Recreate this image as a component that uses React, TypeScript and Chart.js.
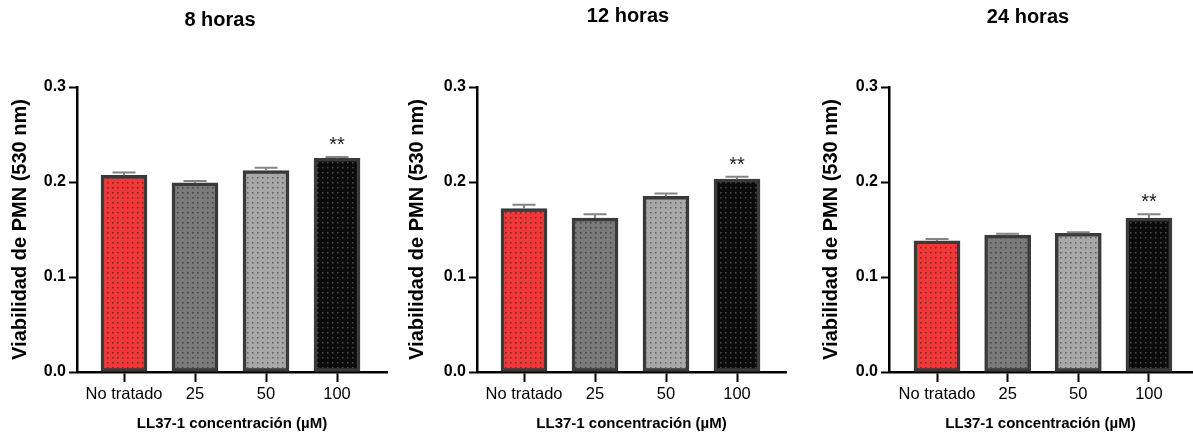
import React, { useEffect, useRef } from "react";
import { Chart, registerables } from "chart.js";

Chart.register(...registerables);

// ---- data ----
const categories = ["No tratado", "25", "50", "100"];
const yTicks = [0, 0.1, 0.2, 0.3];
const panelTitles = ["8 horas", "12 horas", "24 horas"];

const means8h = [0.207, 0.199, 0.212, 0.225];
const sem8h = [0.003, 0.002, 0.003, 0.0012];
const sig8h = ["", "", "", "**"];

const means12h = [0.172, 0.162, 0.185, 0.203];
const sem12h = [0.004, 0.004, 0.003, 0.0026];
const sig12h = ["", "", "", "**"];

const means24h = [0.138, 0.144, 0.146, 0.162];
const sem24h = [0.002, 0.0015, 0.0012, 0.004];
const sig24h = ["", "", "", "**"];

const yAxisTitle = "Viabilidad de PMN (530 nm)";
const xAxisTitle = "LL37-1 concentración (µM)";

// ---- styles ----
const barColors = ["#f03838", "#7a7a7a", "#a8a8a8", "#0b0b0b"];
const dotColors = ["#7e2424", "#444444", "#626262", "#4a4a4a"];
const FONT = "'Liberation Sans', Arial, Helvetica, sans-serif";

// layout for each panel (canvas placement & axis geometry)
const panelLayouts = [
  { left: 0, width: 395, padL: 8.6, yWidth: 68.4, padR: 8, xMin: -0.662, xMax: 3.704, titleX: 220, titleY: 20 },
  { left: 398, width: 395, padL: 7.1, yWidth: 71.9, padR: 7, xMin: -0.662, xMax: 3.69, titleX: 230, titleY: 16 },
  { left: 798, width: 395, padL: 21.1, yWidth: 69.9, padR: 1, xMin: -0.68, xMax: 3.61, titleX: 230, titleY: 17 },
];

const panelData = [
  { title: panelTitles[0], means: means8h, sem: sem8h, sig: sig8h },
  { title: panelTitles[1], means: means12h, sem: sem12h, sig: sig12h },
  { title: panelTitles[2], means: means24h, sem: sem24h, sig: sig24h },
];

function makeDotPattern(ctx: CanvasRenderingContext2D, fill: string, dot: string) {
  const c = document.createElement("canvas");
  c.width = 5;
  c.height = 5;
  const g = c.getContext("2d")!;
  g.fillStyle = fill;
  g.fillRect(0, 0, 5, 5);
  g.fillStyle = dot;
  g.fillRect(2, 2, 1.5, 1.5);
  return ctx.createPattern(c, "repeat")!;
}

function Panel({ idx }: { idx: number }) {
  const ref = useRef<HTMLCanvasElement | null>(null);
  const lay = panelLayouts[idx];
  const pd = panelData[idx];

  useEffect(() => {
    const canvas = ref.current!;
    const ctx = canvas.getContext("2d")!;
    const patterns = barColors.map((c, i) => makeDotPattern(ctx, c, dotColors[i]));

    const overlay = {
      id: "overlay" + idx,
      afterDatasetsDraw(chart: any) {
        const { ctx: c, scales } = chart;
        const xs = scales.x;
        const ys = scales.y;
        c.save();
        // error bars (upper SEM)
        c.strokeStyle = "#858585";
        c.lineWidth = 2;
        pd.means.forEach((m, i) => {
          const x = xs.getPixelForValue(i);
          const y0 = ys.getPixelForValue(m);
          const y1 = ys.getPixelForValue(m + pd.sem[i]);
          c.beginPath();
          c.moveTo(x, y0);
          c.lineTo(x, y1);
          c.moveTo(x - 11.5, y1);
          c.lineTo(x + 11.5, y1);
          c.stroke();
        });
        // significance stars
        c.fillStyle = "#222";
        c.font = `20px ${FONT}`;
        c.textAlign = "center";
        c.textBaseline = "alphabetic";
        pd.sig.forEach((s, i) => {
          if (!s) return;
          const x = xs.getPixelForValue(i);
          const y1 = ys.getPixelForValue(pd.means[i] + pd.sem[i]);
          c.fillText(s, x, y1 - 6);
        });
        // panel title
        c.fillStyle = "#000";
        c.font = `bold 20px ${FONT}`;
        c.textBaseline = "middle";
        c.fillText(pd.title, lay.titleX, lay.titleY);
        c.restore();
      },
    };

    const chart = new Chart(ctx, {
      type: "bar",
      data: {
        datasets: [
          {
            data: pd.means.map((v, i) => ({ x: i, y: v })),
            backgroundColor: patterns,
            borderColor: "#3a3a3a",
            borderWidth: 3.5,
            borderSkipped: false,
            barThickness: 46,
          },
        ],
      },
      options: {
        animation: false,
        responsive: false,
        maintainAspectRatio: false,
        events: [],
        layout: { padding: { left: lay.padL, right: lay.padR, top: 87, bottom: 0 } },
        plugins: { legend: { display: false }, tooltip: { enabled: false }, title: { display: false } },
        scales: {
          x: {
            type: "linear",
            min: lay.xMin,
            max: lay.xMax,
            offset: false,
            afterBuildTicks: (s: any) => {
              s.ticks = categories.map((_, i) => ({ value: i }));
            },
            afterFit: (s: any) => {
              s.height = 64;
            },
            ticks: {
              color: "#000",
              font: { family: FONT, size: 16.5 },
              padding: 3,
              maxRotation: 0,
              autoSkip: false,
              callback: (v: any) => categories[v as number],
            },
            grid: {
              display: true,
              offset: false,
              drawOnChartArea: false,
              drawTicks: true,
              tickLength: 10,
              tickWidth: 2,
              tickColor: "#000",
            },
            border: { display: true, color: "#000", width: 2.5 },
            title: {
              display: true,
              text: xAxisTitle,
              color: "#000",
              font: { family: FONT, size: 15, weight: "bold" },
              padding: { top: 0, bottom: 3 },
            },
          },
          y: {
            min: 0,
            max: 0.3,
            afterBuildTicks: (s: any) => {
              s.ticks = yTicks.map((v) => ({ value: v }));
            },
            afterFit: (s: any) => {
              s.width = lay.yWidth;
            },
            ticks: {
              color: "#000",
              font: { family: FONT, size: 16, weight: "bold" },
              padding: 3,
              callback: (v: any) => Number(v).toFixed(1),
            },
            grid: {
              display: true,
              drawOnChartArea: false,
              drawTicks: true,
              tickLength: 8,
              tickWidth: 2,
              tickColor: "#000",
            },
            border: { display: true, color: "#000", width: 2.5 },
            title: {
              display: true,
              text: yAxisTitle,
              color: "#000",
              font: { family: FONT, size: 20, weight: "bold" },
              padding: { top: 0, bottom: 0 },
            },
          },
        },
      },
      plugins: [overlay],
    } as any);
    return () => chart.destroy();
  }, [idx]);

  return (
    <canvas
      ref={ref}
      width={lay.width}
      height={436}
      style={{ position: "absolute", left: lay.left, top: 0, width: lay.width, height: 436 }}
    />
  );
}

export default function App() {
  return (
    <div style={{ position: "absolute", left: 0, top: 0, width: 1193, height: 436, background: "#fff", overflow: "hidden" }}>
      {panelData.map((_, i) => (
        <Panel key={i} idx={i} />
      ))}
    </div>
  );
}
